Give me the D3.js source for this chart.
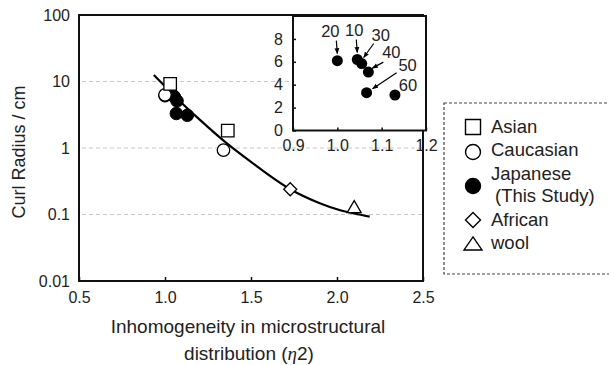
<!DOCTYPE html>
<html><head><meta charset="utf-8">
<script src="https://cdn.jsdelivr.net/npm/d3@7/dist/d3.min.js"></script>
<style>
html,body{margin:0;padding:0;background:#fff;}
svg text{font-family:"Liberation Sans",Arial,Helvetica,sans-serif;fill:#222;}
</style></head>
<body><svg id="c" width="609" height="365"></svg>
<script>
// ---------- data ----------
const xTicks = [0.5, 1.0, 1.5, 2.0, 2.5];
const yTicks = [100, 10, 1, 0.1, 0.01];
const yTickLabels = ["100", "10", "1", "0.1", "0.01"];
const gridValues = [10, 1, 0.1];

const asianX = [1.03, 1.365];
const asianY = [9.2, 1.82];
const caucasianX = [1.0, 1.34];
const caucasianY = [6.3, 0.93];
const japaneseX = [1.0, 1.045, 1.055, 1.07, 1.066, 1.13];
const japaneseY = [6.1, 6.2, 5.85, 5.1, 3.3, 3.1];
const japaneseLabels = ["20", "10", "30", "40", "50", "60"];
const africanX = [1.728];
const africanY = [0.24];
const woolX = [2.1];
const woolY = [0.125];

// fitted curve
const fitX = [0.935, 1.1, 1.2, 1.36, 1.5, 1.728, 1.9, 2.0, 2.1, 2.19];
const fitY = [12.5, 4.68, 2.69, 1.17, 0.617, 0.24, 0.148, 0.12, 0.1035, 0.093];

const insetXTicks = [0.9, 1.0, 1.1, 1.2];
const insetYTicks = [0, 2, 4, 6, 8];

const legendLabels = ["Asian", "Caucasian", "Japanese", "African", "wool"];

// ---------- layout ----------
const svg = d3.select("#c");
const x = d3.scaleLinear().domain([0.5, 2.5]).range([79, 423]);
const y = d3.scaleLog().domain([0.01, 100]).range([281, 15]);
const ix = d3.scaleLinear().domain([0.9, 1.2]).range([293, 426]);
const iy = d3.scaleLinear().domain([0, 10]).range([130.5, 16]);

const zip = (a, b) => a.map((v, i) => [v, b[i]]);

// marker path generators (centered at 0,0)
function mSquare(s){const h=s/2;return `M${-h},${-h}H${h}V${h}H${-h}Z`;}
function mCircle(d){const r=d/2;return `M${r},0A${r},${r} 0 1,1 ${-r},0A${r},${r} 0 1,1 ${r},0Z`;}
function mDiamond(w){const h=w/2;return `M0,${-h}L${h},0L0,${h}L${-h},0Z`;}
function mTriangle(w,hh){return `M0,${-hh*0.62}L${w/2},${hh*0.38}L${-w/2},${hh*0.38}Z`;}

// gridlines
svg.append("g").selectAll("line").data(gridValues).join("line")
  .attr("x1", x(0.5) + 3).attr("x2", x(2.5))
  .attr("y1", d => y(d)).attr("y2", d => y(d))
  .attr("stroke", "#c8c8c8").attr("stroke-width", 1.2).attr("stroke-dasharray", "4,3");

// main axes using d3 axis (ticks inward on bottom, none on left)
const xAxis = svg.append("g").attr("transform", `translate(0,${y(0.01)})`)
  .call(d3.axisBottom(x).tickValues(xTicks).tickSize(-4).tickPadding(11).tickFormat(d3.format(".1f")));
xAxis.select(".domain").remove();
xAxis.selectAll("line").attr("stroke", "#111").attr("stroke-width", 1.5);
xAxis.selectAll("text").attr("font-size", 16).attr("fill", "#222");

const yAxis = svg.append("g").attr("transform", `translate(${x(0.5)},0)`)
  .call(d3.axisLeft(y).tickValues(yTicks).tickSize(0).tickPadding(9).tickFormat((d, i) => yTickLabels[i]));
yAxis.select(".domain").remove();
yAxis.selectAll("text").attr("font-size", 16).attr("fill", "#222");

// main frame
svg.append("rect").attr("x", x(0.5)).attr("y", y(100)).attr("width", x(2.5) - x(0.5)).attr("height", y(0.01) - y(100))
  .attr("fill", "none").attr("stroke", "#111").attr("stroke-width", 2);

// fitted curve
const line = d3.line().x(d => x(d[0])).y(d => y(d[1])).curve(d3.curveMonotoneX);
svg.append("path").datum(zip(fitX, fitY)).attr("d", line)
  .attr("fill", "none").attr("stroke", "#000").attr("stroke-width", 2.2);

// markers
const mk = svg.append("g");
mk.selectAll(".jp").data(zip(japaneseX, japaneseY)).join("path")
  .attr("transform", d => `translate(${x(d[0])},${y(d[1])})`).attr("d", mCircle(12.5))
  .attr("fill", "#000").attr("stroke", "#000").attr("stroke-width", 1);
mk.selectAll(".ca").data(zip(caucasianX, caucasianY)).join("path")
  .attr("transform", d => `translate(${x(d[0])},${y(d[1])})`).attr("d", mCircle(12.5))
  .attr("fill", "#fff").attr("stroke", "#000").attr("stroke-width", 1.3);
mk.selectAll(".as").data(zip(asianX, asianY)).join("path")
  .attr("transform", d => `translate(${x(d[0])},${y(d[1])})`).attr("d", mSquare(12.5))
  .attr("fill", "#fff").attr("stroke", "#000").attr("stroke-width", 1.3);
mk.selectAll(".af").data(zip(africanX, africanY)).join("path")
  .attr("transform", d => `translate(${x(d[0])},${y(d[1])})`).attr("d", mDiamond(13))
  .attr("fill", "#fff").attr("stroke", "#000").attr("stroke-width", 1.3);
mk.selectAll(".wo").data(zip(woolX, woolY)).join("path")
  .attr("transform", d => `translate(${x(d[0])},${y(d[1])})`).attr("d", mTriangle(14, 12))
  .attr("fill", "#fff").attr("stroke", "#000").attr("stroke-width", 1.3);

// axis titles
svg.append("text").attr("transform", `translate(25,${(y(100) + y(0.01)) / 2 + 4}) rotate(-90)`)
  .attr("text-anchor", "middle").attr("font-size", 18).text("Curl Radius / cm");
const xt = svg.append("text").attr("text-anchor", "middle").attr("font-size", 19);
xt.append("tspan").attr("x", 248).attr("y", 333).text("Inhomogeneity in microstructural");
const t2 = svg.append("text").attr("text-anchor", "middle").attr("font-size", 19).attr("x", 249).attr("y", 360);
t2.append("tspan").text("distribution (");
t2.append("tspan").attr("font-style", "italic").attr("font-family", "'Liberation Serif','Times New Roman',serif").text("η");
t2.append("tspan").text("2)");

// ---------- inset ----------
const ins = svg.append("g");
ins.append("rect").attr("x", ix(0.9)).attr("y", iy(10)).attr("width", ix(1.2) - ix(0.9)).attr("height", iy(0) - iy(10))
  .attr("fill", "#fff");
const ixa = ins.append("g").attr("transform", `translate(0,${iy(0)})`)
  .call(d3.axisBottom(ix).tickValues(insetXTicks).tickSize(-3).tickPadding(9).tickFormat(d3.format(".1f")));
ixa.select(".domain").remove();
ixa.selectAll("line").attr("stroke", "#111").attr("stroke-width", 1.5);
ixa.selectAll("text").attr("font-size", 16).attr("fill", "#222");
const iya = ins.append("g").attr("transform", `translate(${ix(0.9)},0)`)
  .call(d3.axisLeft(iy).tickValues(insetYTicks).tickSize(-3).tickPadding(10).tickFormat(d3.format("d")));
iya.select(".domain").remove();
iya.selectAll("line").attr("stroke", "#111").attr("stroke-width", 1.5);
iya.selectAll("text").attr("font-size", 16).attr("fill", "#222");
ins.append("rect").attr("x", ix(0.9)).attr("y", iy(10)).attr("width", ix(1.2) - ix(0.9)).attr("height", iy(0) - iy(10))
  .attr("fill", "none").attr("stroke", "#111").attr("stroke-width", 2);

// arrowhead marker
svg.append("defs").append("marker").attr("id", "ah").attr("viewBox", "0 0 10 10")
  .attr("refX", 9).attr("refY", 5).attr("markerWidth", 6).attr("markerHeight", 6)
  .attr("markerUnits", "userSpaceOnUse").attr("orient", "auto")
  .append("path").attr("d", "M0,1L10,5L0,9Z").attr("fill", "#000");

// annotation layout (label offsets and arrow offsets relative to the point)
const annot = [
  {lx: -7, ly: -24, a: [-1, -20, 0, -7]},
  {lx: -3, ly: -24, a: [-1, -20, 0, -7]},
  {lx: 19, ly: -23, a: [12, -20, 2, -6]},
  {lx: 23, ly: -14, a: [15, -10, 4, -4]},
  {lx: 41, ly: -22, a: [30, -20, 6, -4]},
  {lx: 13, ly: -4, a: null}
];
const jp = zip(japaneseX, japaneseY);
jp.forEach((d, i) => {
  const px = ix(d[0]), py = iy(d[1]), an = annot[i];
  ins.append("text").attr("x", px + an.lx).attr("y", py + an.ly).attr("text-anchor", "middle")
    .attr("font-size", 16.5).text(japaneseLabels[i]);
  if (an.a) {
    ins.append("line").attr("x1", px + an.a[0]).attr("y1", py + an.a[1]).attr("x2", px + an.a[2]).attr("y2", py + an.a[3])
      .attr("stroke", "#000").attr("stroke-width", 1.2).attr("marker-end", "url(#ah)");
  }
});
ins.selectAll(".ijp").data(jp).join("path")
  .attr("transform", d => `translate(${ix(d[0])},${iy(d[1])})`).attr("d", mCircle(11))
  .attr("fill", "#000");

// ---------- legend ----------
const lg = svg.append("g");
lg.append("rect").attr("x", 444).attr("y", 103).attr("width", 175).attr("height", 171)
  .attr("fill", "none").attr("stroke", "#444").attr("stroke-width", 1.2).attr("stroke-dasharray", "3,2");
const legendMarks = [
  {d: mSquare(15), fill: "#fff", cy: 127},
  {d: mCircle(15), fill: "#fff", cy: 152},
  {d: mCircle(15), fill: "#000", cy: 186},
  {d: mDiamond(15), fill: "#fff", cy: 220},
  {d: mTriangle(18, 13), fill: "#fff", cy: 245}
];
const legendBase = [133, 156, 180, 226, 249];
legendLabels.forEach((lab, i) => {
  const m = legendMarks[i];
  lg.append("path").attr("transform", `translate(473,${m.cy})`).attr("d", m.d)
    .attr("fill", m.fill).attr("stroke", "#000").attr("stroke-width", 1.4);
  lg.append("text").attr("x", 491).attr("y", legendBase[i]).attr("font-size", 18.5).text(lab);
});
lg.append("text").attr("x", 495).attr("y", 202).attr("font-size", 18.5).text("(This Study)");
</script></body></html>
